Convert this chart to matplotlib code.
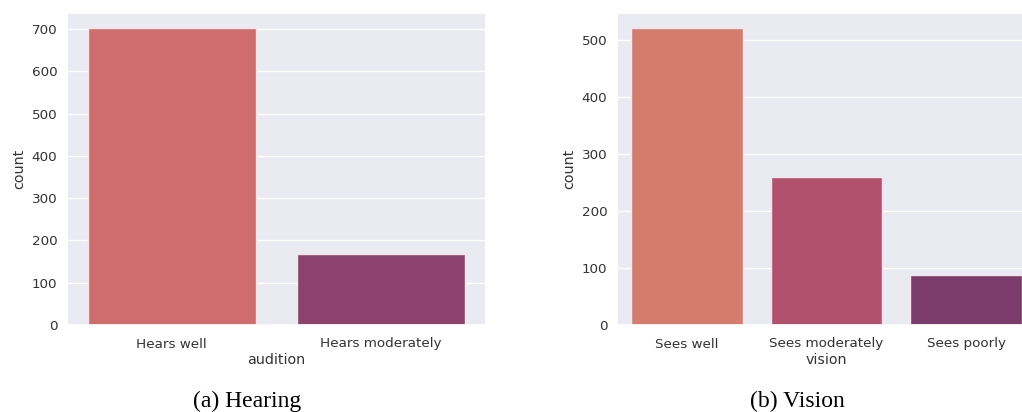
import matplotlib
matplotlib.use("Agg")
import matplotlib.pyplot as plt
import seaborn as sns

# Survey answers: how well participants hear and see
hearing_labels = ["Hears well", "Hears moderately"]
hearing_counts = [703, 168]

vision_labels = ["Sees well", "Sees moderately", "Sees poorly"]
vision_counts = [522, 260, 87]

sns.set_theme(style="darkgrid")
plt.rcParams["font.family"] = ["DejaVu Sans"]

W, H = 1022, 412
fig = plt.figure(figsize=(W / 100, H / 100), dpi=100)

ax_h = fig.add_axes([67 / W, 1 - 325 / H, 419 / W, 312 / H])
ax_v = fig.add_axes([617 / W, 1 - 325 / H, 419 / W, 312 / H])

TEXT = "#333333"


def draw_counts(ax, labels, counts, xlabel):
    colors = [sns.desaturate(c, 0.75)
              for c in sns.color_palette("flare", len(labels))]
    ax.bar(range(len(labels)), counts, width=0.8, color=colors,
           edgecolor="#f4e6ea", linewidth=1.0)
    ax.set_xlim(-0.5, len(labels) - 0.5)
    ax.set_ylim(0, max(counts) * 1.05)
    ax.set_xticks(range(len(labels)))
    ax.set_xticklabels(labels)
    ax.grid(False, axis="x")
    ax.grid(True, axis="y", color="white", linewidth=1.0)
    ax.set_axisbelow(True)
    ax.set_xlabel(xlabel, fontsize=10.3, color=TEXT, labelpad=2)
    ax.set_ylabel("count", fontsize=10.3, color=TEXT)
    ax.tick_params(axis="x", labelsize=9.7, colors=TEXT, length=0, pad=9)
    ax.tick_params(axis="y", labelsize=9.7, colors=TEXT, length=0, pad=7)


draw_counts(ax_h, hearing_labels, hearing_counts, "audition")
draw_counts(ax_v, vision_labels, vision_counts, "vision")

fig.text(247 / W, 1 - 401 / H, "(a) Hearing", ha="center", va="center",
         fontsize=17, family="Liberation Serif", color="black")
fig.text(797 / W, 1 - 401 / H, "(b) Vision", ha="center", va="center",
         fontsize=17, family="Liberation Serif", color="black")

fig.savefig("out.png", dpi=100)
